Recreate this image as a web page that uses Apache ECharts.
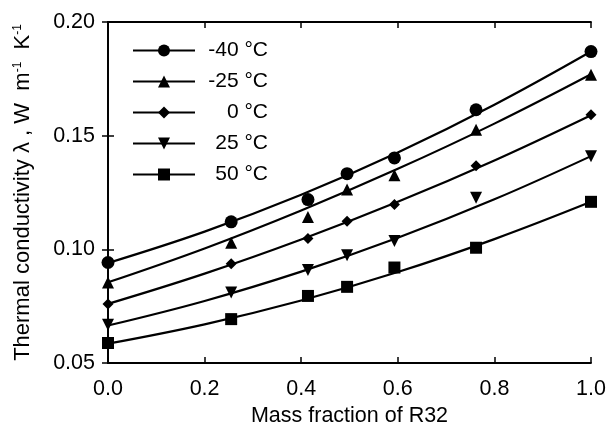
<!DOCTYPE html>
<html>
<head>
<meta charset="utf-8">
<script src="https://cdn.jsdelivr.net/npm/echarts@6/dist/echarts.min.js"></script>
<style>html,body{margin:0;padding:0;background:#fff;}#c{width:610px;height:432px;}</style>
</head>
<body>
<div id="c"></div>
<script>
// Series names
const seriesNames = ['-40 °C', '-25 °C', '0 °C', '25 °C', '50 °C'];
// Measured points: mass fraction of R32
const xMeasured = [0.0, 0.255, 0.414, 0.495, 0.593, 0.762, 1.0];
const yM40 = [0.0942, 0.1121, 0.1219, 0.1333, 0.1402, 0.1614, 0.1870];
const yM25 = [0.0854, 0.1029, 0.1142, 0.1263, 0.1326, 0.1526, 0.1768];
const y0   = [0.0759, 0.0937, 0.1048, 0.1124, 0.1197, 0.1368, 0.1592];
const y25  = [0.0668, 0.0810, 0.0909, 0.0974, 0.1037, 0.1227, 0.1410];
const y50  = [0.0588, 0.0693, 0.0795, 0.0835, 0.0920, 0.1007, 0.1209];
// Fitted curves read at these fractions
const xCurve = [0.0, 0.2, 0.4, 0.6, 0.8, 1.0];
const cM40 = [0.0940, 0.1078, 0.1240, 0.1426, 0.1636, 0.1870];
const cM25 = [0.0855, 0.1004, 0.1171, 0.1354, 0.1553, 0.1770];
const c0   = [0.0760, 0.0893, 0.1043, 0.1209, 0.1391, 0.1590];
const c25  = [0.0665, 0.0773, 0.0902, 0.1051, 0.1220, 0.1410];
const c50  = [0.0585, 0.0670, 0.0775, 0.0900, 0.1045, 0.1209];
// Axis ticks
const xTicks = {min: 0, max: 1, interval: 0.2};
const yTicks = {min: 0.05, max: 0.20, interval: 0.05};

const measured = [yM40, yM25, y0, y25, y50];
const curves = [cM40, cM25, c0, c25, c50];
const symbols = ['circle', 'triangle', 'diamond', 'path://M0,0 L10,0 L5,9 Z', 'rect'];
const sizes = [13, 12, 11, 12, 12];

const font = 'Liberation Sans, Arial, Helvetica, sans-serif';
const pair = (xs, ys) => xs.map((x, i) => [x, ys[i]]);

const series = [];
seriesNames.forEach((n, i) => {
  series.push({
    name: n, type: 'line', data: pair(xCurve, curves[i]), smooth: 0.4,
    showSymbol: false, symbol: symbols[i], symbolSize: sizes[i],
    lineStyle: {color: '#000', width: 2.2}, itemStyle: {color: '#000', opacity: 1},
    silent: true, z: 2
  });
});
seriesNames.forEach((n, i) => {
  series.push({
    name: n, type: 'scatter', data: pair(xMeasured, measured[i]),
    symbol: symbols[i], symbolSize: sizes[i],
    itemStyle: {color: '#000', opacity: 1}, z: 3
  });
});

const axisLine = {show: true, lineStyle: {color: '#000', width: 1.8}};
const axisTick = {show: true, inside: true, length: 6, lineStyle: {color: '#000', width: 1.5}};

const chart = echarts.init(document.getElementById('c'), null, {renderer: 'canvas'});
chart.setOption({
  animation: false,
  backgroundColor: '#fff',
  grid: {left: 108, right: 19, top: 22, bottom: 69, containLabel: false},
  legend: {
    data: seriesNames, orient: 'vertical', left: 127, top: 35,
    itemWidth: 62, itemHeight: 15, itemGap: 10,
    formatter: n => '{a|' + n + '}',
    textStyle: {fontFamily: font, fontSize: 21, color: '#000',
      rich: {a: {width: 68, align: 'right', fontFamily: font, fontSize: 21, color: '#000', lineHeight: 21}}},
    selectedMode: false
  },
  xAxis: [{
    type: 'value', min: xTicks.min, max: xTicks.max, interval: xTicks.interval,
    name: 'Mass fraction of R32', nameLocation: 'middle', nameGap: 42,
    nameTextStyle: {fontFamily: font, fontSize: 21.5, color: '#000'},
    axisLine, axisTick, splitLine: {show: false},
    axisLabel: {fontFamily: font, fontSize: 21.5, color: '#000', margin: 15, formatter: v => v.toFixed(1)}
  }, {
    type: 'value', position: 'top', min: xTicks.min, max: xTicks.max, interval: xTicks.interval,
    axisLine, axisTick, splitLine: {show: false}, axisLabel: {show: false}
  }],
  yAxis: [{
    type: 'value', min: yTicks.min, max: yTicks.max, interval: yTicks.interval,
    name: '{t|Thermal conductivity λ , W  m}{s|-1}{t|  K}{s|-1}', nameLocation: 'middle', nameGap: 74,
    nameTextStyle: {fontFamily: font, fontSize: 22, color: '#000',
      rich: {t: {fontFamily: font, fontSize: 22, color: '#000'},
             s: {fontFamily: font, fontSize: 12, color: '#000', verticalAlign: 'top', lineHeight: 22, padding: [0, 0, 9, 0]}}},
    axisLine, axisTick, splitLine: {show: false},
    axisLabel: {fontFamily: font, fontSize: 21.5, color: '#000', margin: 13, formatter: v => v.toFixed(2)}
  }, {
    type: 'value', position: 'right', min: yTicks.min, max: yTicks.max, interval: yTicks.interval,
    axisLine, axisTick, splitLine: {show: false}, axisLabel: {show: false}
  }],
  series
});
</script>
</body>
</html>
